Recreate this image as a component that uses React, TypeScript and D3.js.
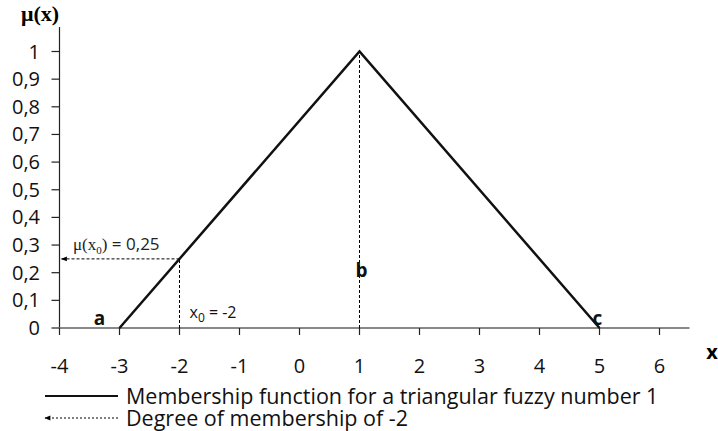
import React, { useRef, useEffect } from 'react';
import * as d3 from 'd3';

// triangular fuzzy number (a, b, c)
const triX = [-3, 1, 5];
const triMu = [0, 1, 0];
const pointLabels = ['a', 'b', 'c'];

const xTicks = [-4, -3, -2, -1, 0, 1, 2, 3, 4, 5, 6];
const yTicks = [0, 0.1, 0.2, 0.3, 0.4, 0.5, 0.6, 0.7, 0.8, 0.9, 1];

const x0 = -2;
const mu0 = 0.25;

const legendLabels = [
  'Membership function for a triangular fuzzy number 1',
  'Degree of membership of -2',
];

const width = 718;
const height = 431;

export default function App() {
  const ref = useRef<SVGSVGElement>(null);

  useEffect(() => {
    const svg = d3.select(ref.current);
    svg.selectAll('*').remove();

    const x = d3.scaleLinear().domain([-4, 6.5]).range([59.5, 689.5]);
    const y = d3.scaleLinear().domain([0, 1]).range([328, 51.5]);
    const sans = '"Open Sans", sans-serif';
    const serif = '"Liberation Serif", serif';

    const defs = svg.append('defs');
    defs.append('marker')
      .attr('id', 'arr')
      .attr('viewBox', '0 0 10 10')
      .attr('refX', 9).attr('refY', 5)
      .attr('markerWidth', 7).attr('markerHeight', 6)
      .attr('orient', 'auto-start-reverse')
      .attr('markerUnits', 'userSpaceOnUse')
      .append('path')
        .attr('d', 'M0,1 L10,5 L0,9 Z')
        .attr('fill', '#000');

    // y axis
    svg.append('line')
      .attr('x1', x(-4)).attr('x2', x(-4))
      .attr('y1', 27).attr('y2', y(0))
      .attr('stroke', '#222').attr('stroke-width', 1.2);
    svg.selectAll('.ytick')
      .data(yTicks)
      .join('line')
        .attr('x1', x(-4) - 8).attr('x2', x(-4))
        .attr('y1', d => y(d)).attr('y2', d => y(d))
        .attr('stroke', '#222').attr('stroke-width', 1.2);
    svg.selectAll('.ylab')
      .data(yTicks)
      .join('text')
        .attr('x', 40)
        .attr('y', d => y(d))
        .attr('dy', '0.35em')
        .attr('text-anchor', 'end')
        .attr('font-family', sans)
        .attr('font-size', 20)
        .attr('fill', '#111')
        .text(d => d3.format('.1~f')(d).replace('.', ','));

    // x axis
    svg.append('line')
      .attr('x1', x(-4)).attr('x2', x(6.5))
      .attr('y1', y(0)).attr('y2', y(0))
      .attr('stroke', '#888').attr('stroke-width', 2);
    svg.selectAll('.xtick')
      .data(xTicks)
      .join('line')
        .attr('x1', d => x(d)).attr('x2', d => x(d))
        .attr('y1', y(0)).attr('y2', y(0) + 7)
        .attr('stroke', '#222').attr('stroke-width', 1.2);
    svg.selectAll('.xlab')
      .data(xTicks)
      .join('text')
        .attr('x', d => x(d))
        .attr('y', 366)
        .attr('dy', '0.35em')
        .attr('text-anchor', 'middle')
        .attr('font-family', sans)
        .attr('font-size', 20)
        .attr('fill', '#111')
        .text(d => String(d));

    // axis titles
    svg.append('text')
      .attr('x', 40).attr('y', 21)
      .attr('text-anchor', 'middle')
      .attr('font-family', serif)
      .attr('font-weight', 'bold')
      .attr('font-size', 22)
      .text('μ(x)');
    svg.append('text')
      .attr('x', 712).attr('y', 352)
      .attr('dy', '0.35em')
      .attr('text-anchor', 'middle')
      .attr('font-family', sans)
      .attr('font-weight', 'bold')
      .attr('font-size', 20)
      .text('x');

    // dotted guide lines
    svg.append('line')
      .attr('x1', x(triX[1])).attr('x2', x(triX[1]))
      .attr('y1', y(0)).attr('y2', y(1))
      .attr('stroke', '#000').attr('stroke-width', 1)
      .attr('stroke-dasharray', '3,2');
    svg.append('line')
      .attr('x1', x(x0)).attr('x2', x(x0))
      .attr('y1', y(0)).attr('y2', y(mu0))
      .attr('stroke', '#000').attr('stroke-width', 1)
      .attr('stroke-dasharray', '3,2');
    svg.append('line')
      .attr('x1', x(x0)).attr('x2', x(-4) + 2)
      .attr('y1', y(mu0)).attr('y2', y(mu0))
      .attr('stroke', '#000').attr('stroke-width', 1)
      .attr('stroke-dasharray', '3,2')
      .attr('marker-end', 'url(#arr)');

    // membership function
    const pts = triX.map((v, i) => [v, triMu[i]] as [number, number]);
    svg.append('path')
      .datum(pts)
      .attr('fill', 'none')
      .attr('stroke', '#111')
      .attr('stroke-width', 2.5)
      .attr('d', d3.line<[number, number]>().x(d => x(d[0])).y(d => y(d[1])));

    // point labels
    const labPos = [
      { dx: -20, mu: 0.036 },
      { dx: 2, mu: 0.207 },
      { dx: -2, mu: 0.036 },
    ];
    pointLabels.forEach((t, i) => {
      svg.append('text')
        .attr('x', x(triX[i]) + labPos[i].dx)
        .attr('y', y(labPos[i].mu))
        .attr('dy', '0.35em')
        .attr('text-anchor', 'middle')
        .attr('font-family', sans)
        .attr('font-weight', 'bold')
        .attr('font-size', 19)
        .attr('fill', '#111')
        .text(t);
    });

    // annotations
    const xa = svg.append('text')
      .attr('x', x(x0) + 10).attr('y', y(0.058))
      .attr('dy', '0.35em')
      .attr('font-family', sans)
      .attr('font-size', 16)
      .attr('fill', '#111');
    xa.append('tspan').text('x');
    xa.append('tspan').attr('font-size', 12).attr('dy', 4).text('0');
    xa.append('tspan').attr('dy', -4).text(' = -2');

    const ma = svg.append('text')
      .attr('x', 73).attr('y', y(0.305))
      .attr('dy', '0.35em')
      .attr('font-size', 17)
      .attr('fill', '#222');
    ma.append('tspan').attr('font-family', serif).text('μ(x');
    ma.append('tspan').attr('font-family', serif).attr('font-size', 11).attr('dy', 4).text('0');
    ma.append('tspan').attr('font-family', serif).attr('dy', -4).text(')');
    ma.append('tspan').attr('font-family', sans).text(' = 0,25');

    // legend
    const ly = [396, 418];
    svg.append('line')
      .attr('x1', 45).attr('x2', 118)
      .attr('y1', ly[0]).attr('y2', ly[0])
      .attr('stroke', '#111').attr('stroke-width', 2);
    svg.append('line')
      .attr('x1', 118).attr('x2', 45)
      .attr('y1', ly[1]).attr('y2', ly[1])
      .attr('stroke', '#000').attr('stroke-width', 1)
      .attr('stroke-dasharray', '2,2')
      .attr('marker-end', 'url(#arr)');
    legendLabels.forEach((t, i) => {
      svg.append('text')
        .attr('x', 126).attr('y', ly[i])
        .attr('dy', '0.35em')
        .attr('font-family', sans)
        .attr('font-size', 21.5)
        .attr('fill', '#111')
        .text(t);
    });
  }, []);

  return (
    <svg
      ref={ref}
      width={width}
      height={height}
      style={{ display: 'block', position: 'absolute', left: 0, top: 0, background: '#fff' }}
    />
  );
}
